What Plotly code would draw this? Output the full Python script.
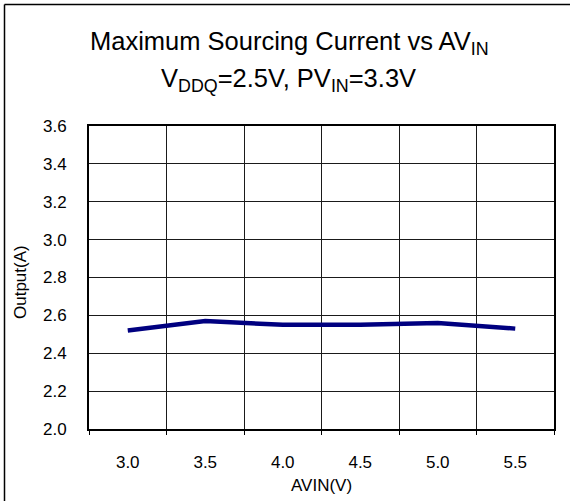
import plotly.graph_objects as go

categories = ["3.0", "3.5", "4.0", "4.5", "5.0", "5.5"]
output_a = [2.52, 2.57, 2.55, 2.55, 2.56, 2.53]
y_ticks = [2.0, 2.2, 2.4, 2.6, 2.8, 3.0, 3.2, 3.4, 3.6]

W, H = 570, 501
L, R, T, B = 89, 16, 126, 72
pw, ph = W - L - R, H - T - B

def px(x):
    return (x - L) / pw

def py(y):
    return (H - B - y) / ph

fig = go.Figure()
fig.add_trace(go.Scatter(
    x=categories, y=output_a, mode="lines",
    line=dict(color="#000080", width=4.5),
    showlegend=False, hoverinfo="skip",
))

font = "Liberation Sans, Arial, sans-serif"

fig.update_layout(
    width=W, height=H,
    margin=dict(l=L, r=R, t=T, b=B, autoexpand=False),
    paper_bgcolor="white", plot_bgcolor="white",
    font=dict(family=font, color="black", size=17),
    xaxis=dict(
        type="category", tickson="boundaries", range=[-0.5, 5.5],
        showgrid=True, gridcolor="#1a1a1a", gridwidth=1,
        showline=True, linecolor="black", linewidth=2, mirror=True,
        ticks="outside", ticklen=4, tickcolor="black",
        tickfont=dict(size=17), ticklabelstandoff=17,
        automargin=False, zeroline=False,
    ),
    yaxis=dict(
        range=[2.0, 3.6], tickvals=y_ticks,
        ticktext=[f"{v:.1f}" for v in y_ticks],
        showgrid=True, gridcolor="#1a1a1a", gridwidth=1,
        showline=True, linecolor="black", linewidth=2, mirror=True,
        ticks="", tickfont=dict(size=17), ticklabelstandoff=17,
        automargin=False, zeroline=False,
    ),
    annotations=[
        dict(text="Maximum Sourcing Current vs AV<sub>IN</sub>",
             xref="paper", yref="paper", x=px(289), y=py(43),
             xanchor="center", yanchor="middle", showarrow=False,
             font=dict(size=25.5, family=font)),
        dict(text="V<sub>DDQ</sub>=2.5V, PV<sub>IN</sub>=3.3V",
             xref="paper", yref="paper", x=px(288), y=py(80),
             xanchor="center", yanchor="middle", showarrow=False,
             font=dict(size=25.5, family=font)),
        dict(text="AVIN(V)",
             xref="paper", yref="paper", x=px(321), y=py(485),
             xanchor="center", yanchor="middle", showarrow=False,
             font=dict(size=17, family=font)),
        dict(text="Output(A)", textangle=-90,
             xref="paper", yref="paper", x=px(20), y=py(282),
             xanchor="center", yanchor="middle", showarrow=False,
             font=dict(size=17, family=font)),
    ],
    shapes=[
        dict(type="line", xref="paper", yref="paper",
             x0=px(4.5), x1=px(575), y0=py(4.5), y1=py(4.5),
             line=dict(color="black", width=1.5)),
        dict(type="line", xref="paper", yref="paper",
             x0=px(4.5), x1=px(4.5), y0=py(4.5), y1=py(510),
             line=dict(color="black", width=1.5)),
    ],
)

fig.write_html(
    "out.html",
    config={"displayModeBar": False, "staticPlot": True},
    post_script="document.body.style.margin='0';document.body.style.overflow='hidden';",
)
